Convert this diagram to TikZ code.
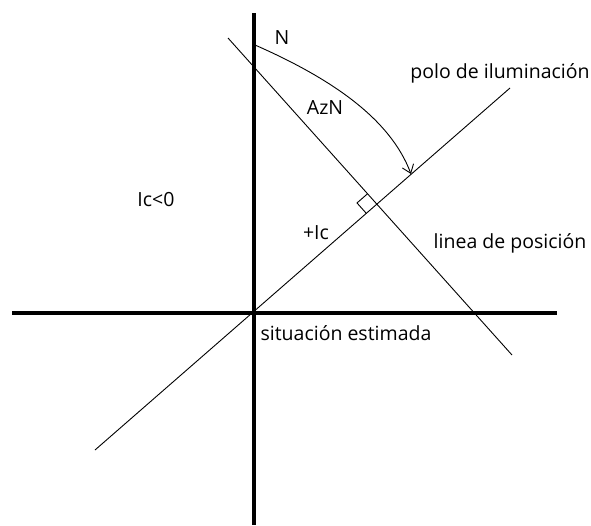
\documentclass[tikz,border=0pt]{standalone}
\usepackage{fontspec}
\setmainfont{Open Sans}
\usetikzlibrary{calc,arrows.meta}
\tikzset{
  axis/.style={line width=3.5pt},
  thin line/.style={line width=0.9pt},
  lbl/.style={inner sep=0pt,font=\fontsize{19.5}{22}\selectfont}
}

\begin{document}
\begin{tikzpicture}[x=1pt,y=-1pt]
			%%%%% START %%%%%
			\useasboundingbox (0,0) rectangle (591,525);
			
			\coordinate (O) at (254,313);
			\draw[axis] (254,13) -- (254,525);
			\draw[axis] (12,313) -- (557,313);
			
			\coordinate (polo0) at (95,450);
			\coordinate (polo1) at (510,88);
			\draw[thin line] (polo0) -- (polo1);
			
			\coordinate (lop0) at (228,38);
			\coordinate (lop1) at (512,355);
			\draw[thin line] (lop0) -- (lop1);
			
			% right angle mark
			\coordinate (P) at (intersection of polo0--polo1 and lop0--lop1);
			\coordinate (ra1) at ($(P)!14pt!(lop0)$);
			\coordinate (ra2) at ($(P)!14pt!(polo0)$);
			\draw[thin line] (ra1) -- ($(ra1)+(ra2)-(P)$) -- (ra2);
			
			\coordinate (N0) at (255,45);
			\coordinate (N1) at (411,174);
			\draw[thin line,-{Straight Barb[length=8pt,width=12pt]}] (N0) .. controls (330,78) and (390,118) .. (N1);
			
			\node[lbl] (n) at (282,38) {N};
			\node[lbl] (az) at (325,108) {AzN};
			\node[lbl] (polo) at (500,73) {polo de iluminación};
			\node[lbl] (neg) at (156,200) {Ic<0};
			\node[lbl] (pos) at (316,233) {+Ic};
			\node[lbl] (lop) at (510,243) {linea de posición};
			\node[lbl] (se) at (346,333) {situación estimada};
			%%%%% END %%%%%
\end{tikzpicture}
\end{document}
